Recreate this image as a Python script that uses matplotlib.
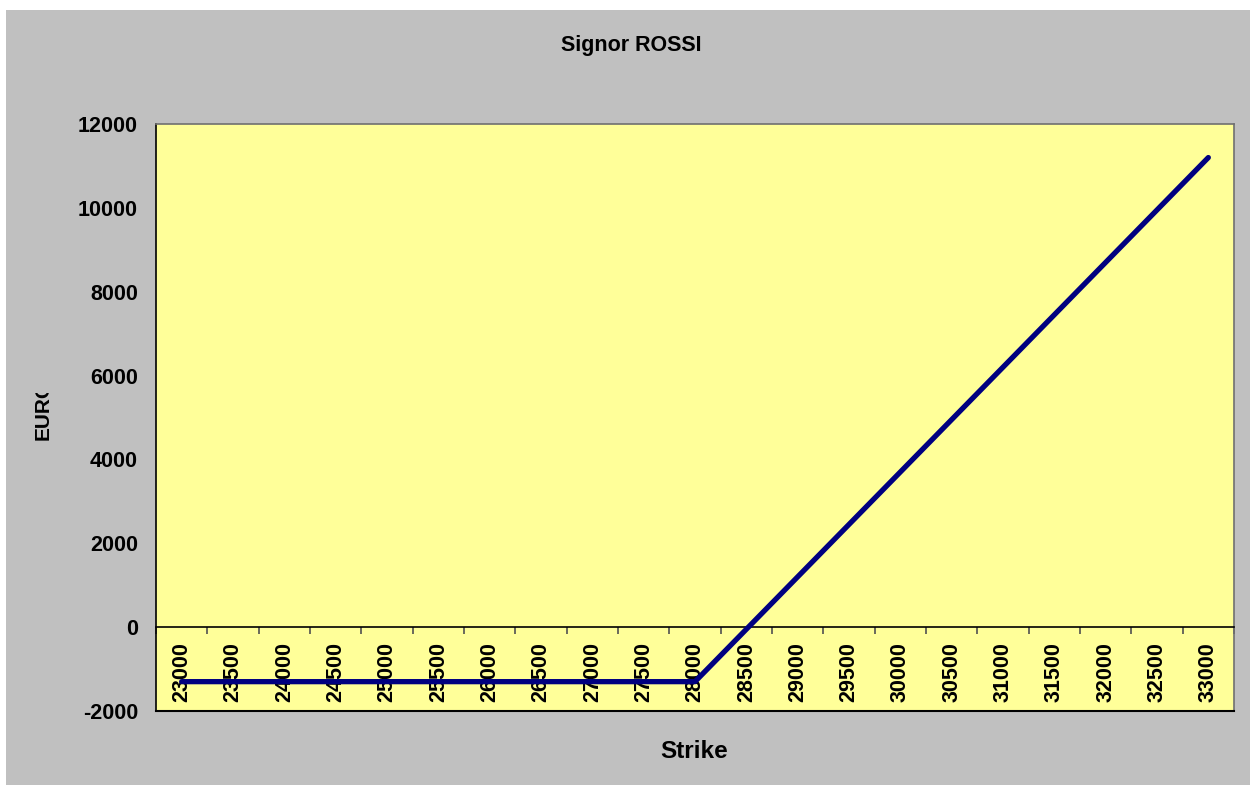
import matplotlib
matplotlib.use("Agg")
import matplotlib.pyplot as plt
from matplotlib.patches import Rectangle
import numpy as np

plt.rcParams['font.family'] = ['Liberation Sans', 'DejaVu Sans']
plt.rcParams['font.weight'] = 'bold'

# Strike prices (categories) and profit/loss in EURO
strikes = ['23000', '23500', '24000', '24500', '25000', '25500', '26000',
           '26500', '27000', '27500', '28000', '28500', '29000', '29500',
           '30000', '30500', '31000', '31500', '32000', '32500', '33000']
payoff = [-1300, -1300, -1300, -1300, -1300, -1300, -1300,
          -1300, -1300, -1300, -1300, -50, 1200, 2450,
          3700, 4950, 6200, 7450, 8700, 9950, 11200]
y_ticks = [-2000, 0, 2000, 4000, 6000, 8000, 10000, 12000]

W, H = 1250, 785
fig = plt.figure(figsize=(W / 100, H / 100), dpi=100, facecolor='white')

# grey chart area
fig.patches.append(Rectangle((6 / W, 0), 1, (H - 10) / H, transform=fig.transFigure,
                             facecolor='#C0C0C0', edgecolor='none', zorder=-10))

left, right, top, bottom = 156, 1234, 124, 711
ax = fig.add_axes([left / W, 1 - bottom / H, (right - left) / W, (bottom - top) / H])
ax.set_facecolor('#FFFF99')

x = np.arange(len(strikes))
ax.plot(x, payoff, color='#000080', linewidth=3.8, solid_capstyle='round',
        solid_joinstyle='round', zorder=3)

ax.set_xlim(-0.5, len(strikes) - 0.5)
ax.set_ylim(-2000, 12000)

# plot-area border
for side in ['top', 'right']:
    ax.spines[side].set_color('#707070')
    ax.spines[side].set_linewidth(1.2)
ax.spines['left'].set_color('black')
ax.spines['left'].set_linewidth(1.2)
ax.spines['bottom'].set_position(('data', 0))
ax.spines['bottom'].set_color('black')
ax.spines['bottom'].set_linewidth(1.2)
ax.plot([0, 1], [0, 0], transform=ax.transAxes, color='black', linewidth=1.5,
        clip_on=False, zorder=4)

# category axis: labels at category centres, tick marks between categories
ax.set_xticks(x)
ax.set_xticklabels(strikes, rotation=90, fontsize=15.5, fontweight='bold', va='top')
ax.tick_params(axis='x', which='major', length=0, pad=11)
ax.set_xticks(np.arange(-0.5, len(strikes)), minor=True)
ax.tick_params(axis='x', which='minor', length=5, width=1.2, color='#505050',
               direction='out')

ax.set_yticks(y_ticks)
ax.set_yticklabels([str(v) for v in y_ticks], fontsize=15.5, fontweight='bold')
ax.tick_params(axis='y', length=0, pad=13)

fig.text(631 / W, 1 - 46 / H, 'Signor ROSSI', ha='center', va='center',
         fontsize=15.5, fontweight='bold')
fig.text(694 / W, 1 - 751 / H, 'Strike', ha='center', va='center',
         fontsize=17.5, fontweight='bold')

ylab = fig.text(43 / W, 1 - 440 / H, 'EURO', ha='center', va='bottom', rotation=90,
                fontsize=15, fontweight='bold')
clip = Rectangle((0, 1 - 440 / H - 0.01), 0.1, (440 - 393) / H + 0.01,
                 transform=fig.transFigure)
ylab.set_clip_path(clip)

fig.savefig('out.png', dpi=100, facecolor='white')
